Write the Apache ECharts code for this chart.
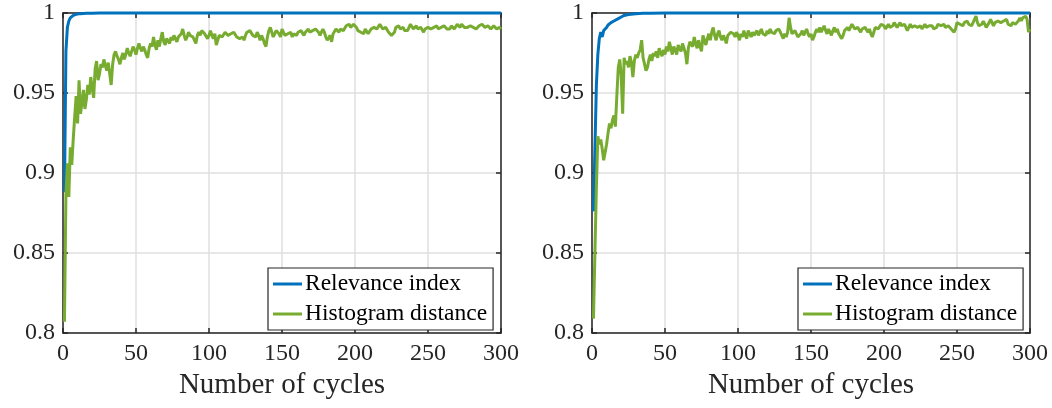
<!DOCTYPE html>
<html>
<head>
<meta charset="utf-8">
<script src="https://cdn.jsdelivr.net/npm/echarts@6/dist/echarts.min.js"></script>
<style>
html,body{margin:0;padding:0;background:#fff;}
#chart{width:1052px;height:408px;}
</style>
</head>
<body>
<div id="chart"></div>
<script>
// ---------- DATA ----------
const xTicks = [0, 50, 100, 150, 200, 250, 300];
const yTicks = [0.8, 0.85, 0.9, 0.95, 1];
const seriesNames = ['Relevance index', 'Histogram distance'];
const xTitle = 'Number of cycles';

// Left panel: relevance index (sparse points, flat at 1 afterwards)
const relLeftX = [1, 2, 3, 4, 5, 6, 7, 8, 9, 10, 12, 14, 16, 18, 20, 25, 300];
const relLeftY = [0.888, 0.976, 0.991, 0.995, 0.997, 0.998, 0.9985, 0.999, 0.9992, 0.9994, 0.9996, 0.9997, 0.9998, 0.9999, 0.9999, 1.0, 1.0];

// Left panel: histogram distance, cycles 1..300
const histLeft = [
0.807,0.886,0.906,0.885,0.916,0.905,0.921,0.935,0.948,0.931,0.958,0.937,0.944,0.952,0.940,0.946,0.955,0.949,0.960,0.953,
0.947,0.965,0.970,0.958,0.962,0.968,0.966,0.971,0.967,0.964,0.969,0.962,0.955,0.968,0.974,0.976,0.973,0.971,0.968,0.972,
0.975,0.971,0.974,0.978,0.975,0.973,0.976,0.979,0.977,0.974,0.978,0.981,0.978,0.976,0.979,0.977,0.974,0.972,0.978,0.981,
0.979,0.985,0.980,0.977,0.983,0.979,0.984,0.988,0.982,0.980,0.984,0.983,0.981,0.985,0.983,0.986,0.984,0.982,0.985,0.984,
0.987,0.990,0.986,0.983,0.985,0.988,0.986,0.987,0.985,0.983,0.981,0.986,0.988,0.986,0.989,0.990,0.987,0.986,0.984,0.986,
0.989,0.986,0.984,0.987,0.980,0.983,0.986,0.987,0.985,0.986,0.988,0.987,0.986,0.985,0.987,0.986,0.988,0.987,0.985,0.986,
0.984,0.983,0.985,0.983,0.986,0.988,0.987,0.989,0.988,0.986,0.987,0.985,0.988,0.986,0.983,0.986,0.984,0.981,0.979,0.985,
0.989,0.991,0.988,0.985,0.987,0.989,0.990,0.987,0.985,0.990,0.989,0.986,0.985,0.987,0.986,0.988,0.985,0.987,0.988,0.986,
0.988,0.987,0.989,0.988,0.986,0.988,0.989,0.990,0.988,0.987,0.989,0.988,0.990,0.989,0.988,0.986,0.988,0.990,0.988,0.985,
0.983,0.982,0.986,0.982,0.987,0.988,0.990,0.989,0.988,0.990,0.991,0.989,0.990,0.992,0.991,0.993,0.991,0.992,0.993,0.994,
0.991,0.989,0.990,0.988,0.989,0.987,0.990,0.989,0.987,0.988,0.990,0.989,0.991,0.992,0.990,0.991,0.993,0.992,0.990,0.989,
0.991,0.990,0.988,0.989,0.986,0.985,0.988,0.991,0.990,0.992,0.990,0.989,0.991,0.989,0.990,0.989,0.991,0.993,0.992,0.990,
0.991,0.992,0.990,0.989,0.991,0.990,0.988,0.990,0.989,0.991,0.992,0.990,0.989,0.991,0.990,0.992,0.990,0.989,0.991,0.990,
0.992,0.991,0.990,0.991,0.990,0.992,0.991,0.990,0.991,0.993,0.992,0.991,0.993,0.992,0.991,0.992,0.991,0.990,0.992,0.993,
0.991,0.992,0.990,0.991,0.992,0.991,0.993,0.992,0.991,0.990,0.992,0.991,0.990,0.991,0.992,0.991,0.990,0.991,0.991,0.990
];

// Right panel: relevance index (sparse points)
const relRightX = [1, 2, 3, 4, 5, 6, 7, 8, 9, 10, 11, 12, 13, 14, 15, 16, 18, 20, 22, 25, 30, 35, 40, 50, 300];
const relRightY = [0.876, 0.915, 0.955, 0.974, 0.984, 0.988, 0.985, 0.989, 0.990, 0.991, 0.9925, 0.993, 0.994, 0.9945, 0.995, 0.9956, 0.9965, 0.9975, 0.9985, 0.999, 0.9996, 0.9998, 0.9999, 1.0, 1.0];

// Right panel: histogram distance, cycles 1..300
const histRight = [
0.809,0.850,0.891,0.923,0.918,0.921,0.915,0.908,0.907,0.918,0.925,0.931,0.928,0.933,0.936,0.929,0.948,0.966,0.971,0.961,
0.937,0.972,0.968,0.970,0.966,0.973,0.969,0.960,0.970,0.974,0.972,0.975,0.977,0.983,0.972,0.968,0.964,0.966,0.971,0.974,
0.970,0.975,0.973,0.976,0.972,0.978,0.975,0.973,0.977,0.974,0.979,0.976,0.982,0.978,0.974,0.979,0.977,0.974,0.980,0.978,
0.976,0.981,0.978,0.975,0.968,0.978,0.982,0.983,0.979,0.985,0.981,0.978,0.983,0.979,0.976,0.986,0.983,0.980,0.984,0.987,
0.983,0.988,0.991,0.986,0.983,0.987,0.989,0.985,0.983,0.986,0.984,0.981,0.986,0.985,0.988,0.989,0.987,0.985,0.988,0.986,
0.983,0.987,0.985,0.989,0.986,0.984,0.989,0.987,0.985,0.988,0.986,0.987,0.989,0.986,0.988,0.990,0.987,0.988,0.986,0.989,
0.987,0.990,0.988,0.989,0.987,0.989,0.988,0.990,0.988,0.986,0.984,0.987,0.985,0.988,0.997,0.991,0.987,0.986,0.989,0.987,
0.985,0.984,0.987,0.989,0.986,0.988,0.990,0.987,0.985,0.987,0.983,0.985,0.988,0.990,0.988,0.991,0.988,0.990,0.992,0.989,
0.987,0.990,0.988,0.986,0.989,0.991,0.988,0.990,0.987,0.986,0.984,0.986,0.989,0.990,0.991,0.989,0.991,0.993,0.992,0.990,
0.989,0.991,0.990,0.988,0.990,0.989,0.991,0.990,0.988,0.990,0.987,0.985,0.988,0.991,0.992,0.990,0.991,0.993,0.994,0.992,
0.990,0.991,0.993,0.991,0.990,0.992,0.994,0.993,0.991,0.992,0.994,0.992,0.991,0.993,0.991,0.989,0.991,0.993,0.991,0.990,
0.992,0.993,0.991,0.990,0.992,0.990,0.991,0.993,0.991,0.990,0.992,0.991,0.992,0.990,0.989,0.991,0.993,0.994,0.992,0.991,
0.993,0.991,0.990,0.992,0.991,0.990,0.989,0.988,0.990,0.994,0.995,0.993,0.994,0.992,0.994,0.993,0.995,0.993,0.994,0.992,
0.994,0.995,0.998,0.994,0.992,0.991,0.993,0.995,0.993,0.991,0.992,0.994,0.996,0.994,0.992,0.994,0.993,0.995,0.996,0.994,
0.993,0.995,0.994,0.996,0.993,0.994,0.992,0.994,0.995,0.993,0.994,0.995,0.997,0.995,0.997,0.996,0.998,0.996,0.988,0.990
];

// ---------- CHART ----------
const FONT = 'Liberation Serif';
const AX = '#262626';
const BLUE = '#0072BD';
const GREEN = '#77AC30';

const chart = echarts.init(document.getElementById('chart'), null, {renderer: 'canvas'});

const grids = [
  {left: 63, top: 13, width: 438, height: 320},
  {left: 592, top: 13, width: 438, height: 320}
];

function xAxes(gi) {
  const base = {
    type: 'value', gridIndex: gi, min: xTicks[0], max: xTicks[xTicks.length - 1], interval: 50,
    axisLine: {show: true, onZero: false, lineStyle: {color: AX, width: 1.5}},
    axisTick: {show: true, inside: true, length: 5, lineStyle: {color: AX, width: 1.5}}
  };
  return [
    Object.assign({}, base, {
      position: 'bottom',
      axisLabel: {show: true, fontFamily: FONT, fontSize: 24, color: AX, margin: 9},
      splitLine: {show: true, lineStyle: {color: '#dfdfdf', width: 1.5}},
      name: xTitle, nameLocation: 'middle', nameGap: 37,
      nameTextStyle: {fontFamily: FONT, fontSize: 29, color: AX, verticalAlign: 'top'}
    }),
    Object.assign({}, base, {
      position: 'top', axisLabel: {show: false}, splitLine: {show: false}
    })
  ];
}
function yAxes(gi) {
  const base = {
    type: 'value', gridIndex: gi, min: yTicks[0], max: yTicks[yTicks.length - 1], interval: 0.05,
    axisLine: {show: true, onZero: false, lineStyle: {color: AX, width: 1.5}},
    axisTick: {show: true, inside: true, length: 5, lineStyle: {color: AX, width: 1.5}}
  };
  return [
    Object.assign({}, base, {
      position: 'left',
      axisLabel: {show: true, fontFamily: FONT, fontSize: 24, color: AX, margin: 8},
      splitLine: {show: true, lineStyle: {color: '#dfdfdf', width: 1.5}}
    }),
    Object.assign({}, base, {
      position: 'right', axisLabel: {show: false}, splitLine: {show: false}
    })
  ];
}

function lineSeries(name, data, color, xi, yi, clip) {
  return {
    type: 'line', name: name, data: data, xAxisIndex: xi, yAxisIndex: yi,
    showSymbol: false, symbol: 'none', clip: clip, animation: false,
    lineStyle: {color: color, width: 3}, itemStyle: {color: color}, z: 3
  };
}

const pairs = (xs, ys) => xs.map((x, i) => [x, ys[i]]);
const byCycle = (ys) => ys.map((v, i) => [i + 1, v]);

function legendAt(left) {
  return {
    orient: 'vertical', left: left, top: 268,
    data: seriesNames, icon: 'rect', itemWidth: 29, itemHeight: 3, itemGap: 6,
    backgroundColor: '#ffffff', borderColor: AX, borderWidth: 1.2, borderRadius: 0,
    padding: [4, 6, 4, 5], selectedMode: false,
    textStyle: {fontFamily: FONT, fontSize: 23.5, color: '#000', padding: [0, 0, 0, -2]}
  };
}

const option = {
  animation: false,
  backgroundColor: '#ffffff',
  textStyle: {fontFamily: FONT},
  grid: grids,
  xAxis: [].concat(xAxes(0), xAxes(1)),
  yAxis: [].concat(yAxes(0), yAxes(1)),
  legend: [legendAt(268), legendAt(798)],
  series: [
    lineSeries(seriesNames[0], pairs(relLeftX, relLeftY), BLUE, 0, 0, false),
    lineSeries(seriesNames[1], byCycle(histLeft), GREEN, 0, 0, true),
    lineSeries(seriesNames[0], pairs(relRightX, relRightY), BLUE, 2, 2, false),
    lineSeries(seriesNames[1], byCycle(histRight), GREEN, 2, 2, true)
  ]
};
chart.setOption(option);
</script>
</body>
</html>
